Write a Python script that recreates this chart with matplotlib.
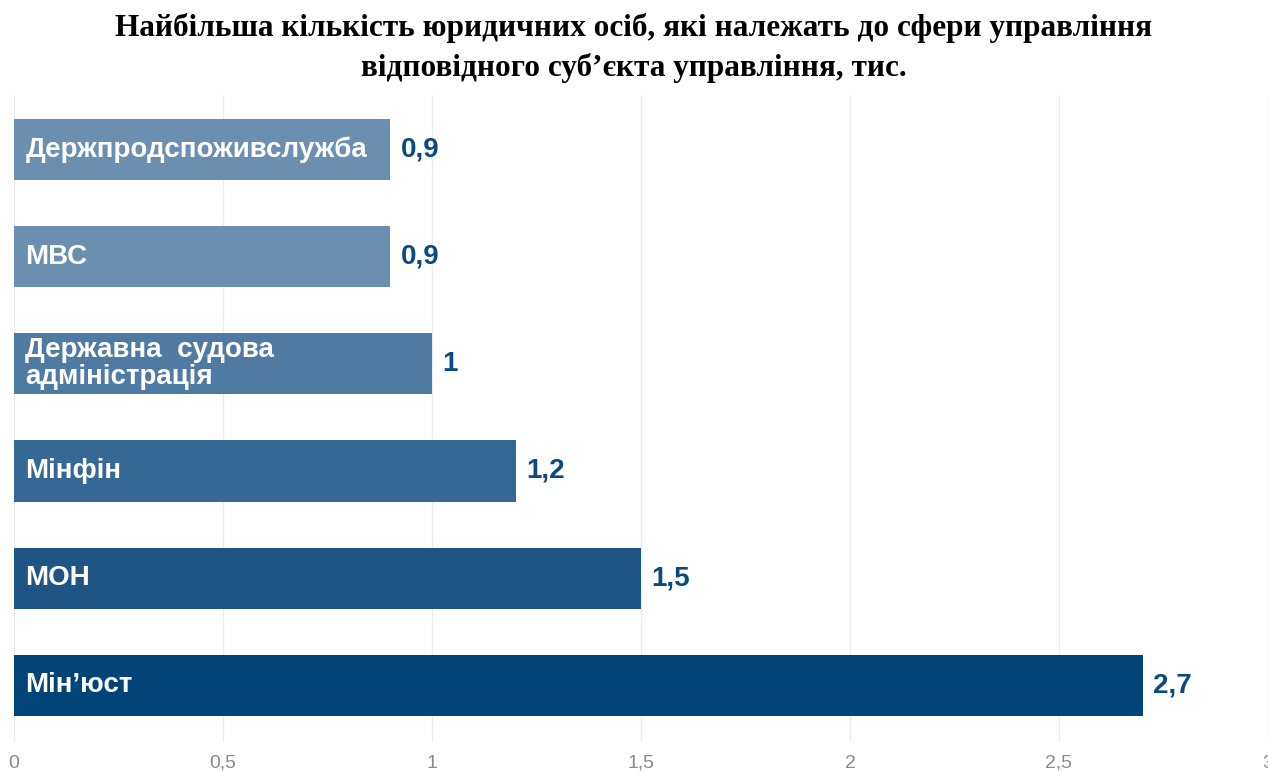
import matplotlib.pyplot as plt

categories = ['Держпродспоживслужба', 'МВС', 'Державна  судова\nадміністрація',
              'Мінфін', 'МОН', 'Мін’юст']
values = [0.9, 0.9, 1.0, 1.2, 1.5, 2.7]
value_labels = ['0,9', '0,9', '1', '1,2', '1,5', '2,7']
bar_colors = ['#6a8fb0', '#6a8fb0', '#4f7ba3', '#356894', '#1f5585', '#034478']
x_ticks = [0, 0.5, 1, 1.5, 2, 2.5, 3]
x_tick_labels = ['0', '0,5', '1', '1,5', '2', '2,5', '3']

title = ('Найбільша кількість юридичних осіб, які належать до сфери управління\n'
         'відповідного суб’єкта управління, тис.')

W, H = 1268, 772
fig = plt.figure(figsize=(W / 100, H / 100), dpi=100)
ax = fig.add_axes([14 / W, 1 - 742 / H, (W - 14) / W, (742 - 95) / H])

pos = list(range(len(categories)))
ax.barh(pos, values, height=0.57, color=bar_colors, zorder=2)

for i, (v, lab, cat) in enumerate(zip(values, value_labels, categories)):
    ax.text(0.027, i, cat, color='white', fontsize=20, fontweight='bold',
            family='Liberation Sans', va='center', ha='left', zorder=3,
            linespacing=1.05)
    ax.text(v + 0.025, i, lab, color='#0b4a80', fontsize=20, fontweight='bold',
            family='Liberation Sans', va='center', ha='left', zorder=3)

ax.set_xlim(0, 3)
ax.set_ylim(len(categories) - 0.47, -0.51)
ax.set_xticks(x_ticks)
ax.set_xticklabels(x_tick_labels, color='#8a8a8a', fontsize=14,
                   family='Liberation Sans')
ax.set_yticks([])
ax.tick_params(axis='x', length=0, pad=9)
ax.grid(axis='x', color='#ececec', linewidth=1, zorder=0)
for s in ax.spines.values():
    s.set_visible(False)

fig.text(0.5, 1 - 48 / H, title, ha='center', va='center', fontsize=22.5,
         fontweight='bold', family='Liberation Serif', linespacing=1.42)

fig.savefig('out.png', dpi=100)
